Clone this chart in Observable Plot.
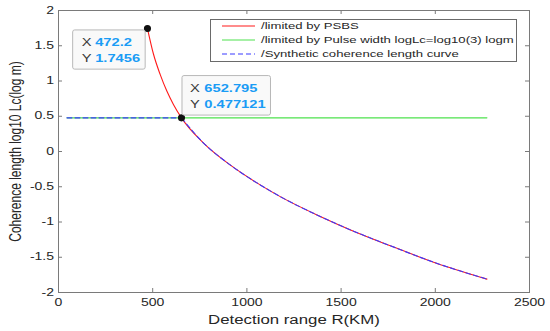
<!DOCTYPE html>
<html><head><meta charset="utf-8">
<script src="https://cdn.jsdelivr.net/npm/d3@7"></script>
<script src="https://cdn.jsdelivr.net/npm/@observablehq/plot@0.6"></script>
<style>
html,body{margin:0;padding:0;background:#fff;}
#chart svg{display:block;}
</style></head><body><div id="chart"></div>
<script>
// ---- data ----
const xTicks = [0, 500, 1000, 1500, 2000, 2500];
const xTickLabels = ["0", "500", "1000", "1500", "2000", "2500"];
const yTicks = [-2, -1.5, -1, -0.5, 0, 0.5, 1, 1.5, 2];
const yTickLabels = ["-2", "-1.5", "-1", "-0.5", "0", "0.5", "1", "1.5", "2"];

const psbsR     = [472.2, 504, 540, 575, 610, 652.795, 770, 911, 1053, 1177, 1372, 1566, 1750, 1991, 2274];
const psbsLogLc = [1.7456, 1.383, 1.09, 0.857, 0.668, 0.477121, 0.12, -0.19, -0.445, -0.64, -0.90, -1.13, -1.325, -1.57, -1.81];

const pulseR     = [45, 2274];
const pulseLogLc = [0.477121, 0.477121];

const synthR     = [45, 652.795, 770, 911, 1053, 1177, 1372, 1566, 1750, 1991, 2274];
const synthLogLc = [0.477121, 0.477121, 0.12, -0.19, -0.445, -0.64, -0.90, -1.13, -1.325, -1.57, -1.81];

const tipR     = [472.2, 652.795];
const tipLogLc = [1.7456, 0.477121];

const seriesNames  = ["/limited by PSBS", "/limited by Pulse width logLc=log10(3) logm", "/Synthetic coherence length curve"];
const seriesColors = ["#ff1a1a", "#4ee24e", "#3a3aff"];
const seriesDash   = [null, null, "5,3"];

const xLabel = "Detection range R(KM)";
const yLabel = "Coherence length log10 Lc(log m)";

// ---- layout ----
const W = 550, H = 331, mL = 58, mR = 21, mT = 10, mB = 39;
const fw = W - mL - mR, fh = H - mT - mB;
const tk = 4;
const axisColor = "#7a7a7a";
const font = "'Liberation Sans', Arial, Helvetica, sans-serif";
const S = 1.4; // horizontal text stretch seen in the reference

const pts = (xs, ys) => xs.map((x, i) => ({x, y: ys[i]}));
const psbs = pts(psbsR, psbsLogLc), pulse = pts(pulseR, pulseLogLc);
// the synthetic curve: flat part (pulse-width limit) then the PSBS-limited part
const synth = pts(synthR, synthLogLc);
const synthFlat = synth.slice(0, 2);
const synthCurve = synth.slice(1);
const tips = pts(tipR, tipLogLc);

const tipBox = [
  {insetLeft: -74.3, insetRight: 1.8, insetTop: 2, insetBottom: -41.2},
  {insetLeft: 1, insetRight: -89.5, insetTop: -41.8, insetBottom: 2.3}
];
const tipText = [
  {lx: -65.6, vx: -52.3, r1: 14.4, r2: 30},
  {lx: 8.5, vx: 22.8, r1: -29, r2: -13.3}
];
const tipMarks = [];
tips.forEach((t, i) => {
  const b = tipBox[i], o = tipText[i];
  tipMarks.push(Plot.rect([t], {x1: "x", x2: "x", y1: "y", y2: "y", ...b, fill: "#f9f9f9", stroke: "#b8b8b8", strokeWidth: 1, rx: 2}));
  tipMarks.push(Plot.text([t], {x: "x", y: "y", text: () => "X", dx: o.lx, dy: o.r1, textAnchor: "start", lineAnchor: "middle", fill: "#3a3a3a", fontSize: 10.5}));
  tipMarks.push(Plot.text([t], {x: "x", y: "y", text: () => "Y", dx: o.lx, dy: o.r2, textAnchor: "start", lineAnchor: "middle", fill: "#3a3a3a", fontSize: 10.5}));
  tipMarks.push(Plot.text([t], {x: "x", y: "y", text: d => String(d.x), dx: o.vx, dy: o.r1, textAnchor: "start", lineAnchor: "middle", fill: "#1a9cf5", fontWeight: "bold", fontSize: 10.5}));
  tipMarks.push(Plot.text([t], {x: "x", y: "y", text: d => String(d.y), dx: o.vx, dy: o.r2, textAnchor: "start", lineAnchor: "middle", fill: "#1a9cf5", fontWeight: "bold", fontSize: 10.5}));
});

const svg = Plot.plot({
  width: W, height: H,
  marginLeft: mL, marginRight: mR, marginTop: mT, marginBottom: mB,
  style: {fontFamily: font, fontSize: "10px", color: "#262626", background: "#fff", overflow: "visible"},
  x: {domain: [0, 2500]},
  y: {domain: [-2, 2]},
  marks: [
    Plot.axisX({ticks: xTicks, tickSize: 0, tickPadding: 6, label: null, tickFormat: d => xTickLabels[xTicks.indexOf(d)], fill: "#262626"}),
    Plot.axisY({ticks: yTicks, tickSize: 0, tickPadding: 4.5, label: null, tickFormat: d => yTickLabels[yTicks.indexOf(d)], fill: "#262626"}),
    Plot.tickX(xTicks, {x: d => d, insetTop: fh - tk, stroke: axisColor}),
    Plot.tickX(xTicks, {x: d => d, insetBottom: fh - tk, stroke: axisColor}),
    Plot.tickY(yTicks, {y: d => d, insetRight: fw - tk, stroke: axisColor}),
    Plot.tickY(yTicks, {y: d => d, insetLeft: fw - tk, stroke: axisColor}),
    Plot.frame({stroke: axisColor, strokeWidth: 1}),
    Plot.line(pulse, {x: "x", y: "y", stroke: seriesColors[1], strokeWidth: 1.1}),
    Plot.line(psbs, {x: "x", y: "y", stroke: seriesColors[0], strokeWidth: 1.1, curve: "monotone-x"}),
    Plot.line(synthFlat, {x: "x", y: "y", stroke: seriesColors[2], strokeWidth: 1.1, strokeDasharray: seriesDash[2]}),
    Plot.line(synthCurve, {x: "x", y: "y", stroke: seriesColors[2], strokeWidth: 1.1, strokeDasharray: seriesDash[2], curve: "monotone-x"}),
    Plot.dot(tips, {x: "x", y: "y", r: 2.8, fill: "#111", stroke: "#111"}),
    ...tipMarks,
    Plot.text([xLabel], {frameAnchor: "bottom", text: d => d, dy: 28, textAnchor: "middle", lineAnchor: "middle", fontSize: 12, fill: "#262626"}),
    Plot.text([yLabel], {frameAnchor: "left", text: d => d, dx: -43, rotate: -90, textAnchor: "middle", lineAnchor: "middle", fontSize: 12, fill: "#262626"})
  ]
});
document.getElementById("chart").appendChild(svg);

// ---- legend (inside the plot, top right) ----
const lg = d3.select(svg).append("g").attr("font-family", font).attr("font-size", 9.4).attr("text-anchor", "start");
lg.append("rect").attr("x", 210.5).attr("y", 19.5).attr("width", 306).attr("height", 42)
  .attr("fill", "#fff").attr("stroke", "#6a6a6a");
seriesNames.forEach((name, i) => {
  const yy = 26 + i * 14;
  lg.append("line").attr("x1", 222).attr("x2", 255).attr("y1", yy).attr("y2", yy)
    .attr("stroke", seriesColors[i]).attr("stroke-width", 1.1)
    .attr("stroke-dasharray", seriesDash[i]);
  lg.append("text").attr("x", 261).attr("y", yy).attr("dy", "0.35em").attr("text-anchor", "start")
    .attr("fill", "#262626").text(name);
});

// ---- stretch text horizontally like the reference ----
function rotatedHolder(el) {
  for (let n = el; n && n !== svg; n = n.parentNode) {
    const tr = n.getAttribute && n.getAttribute("transform");
    if (tr && /rotate/.test(tr)) return n;
  }
  return null;
}
svg.querySelectorAll("text").forEach(t => {
  const holder = rotatedHolder(t);
  if (holder) {
    const tr = holder.getAttribute("transform");
    holder.setAttribute("transform", tr.replace(/rotate/, `scale(${S},1) rotate`));
    return;
  }
  const len = t.getComputedTextLength();
  if (len > 0) {
    t.setAttribute("textLength", len * S);
    t.setAttribute("lengthAdjust", "spacingAndGlyphs");
  }
});
</script></body></html>
